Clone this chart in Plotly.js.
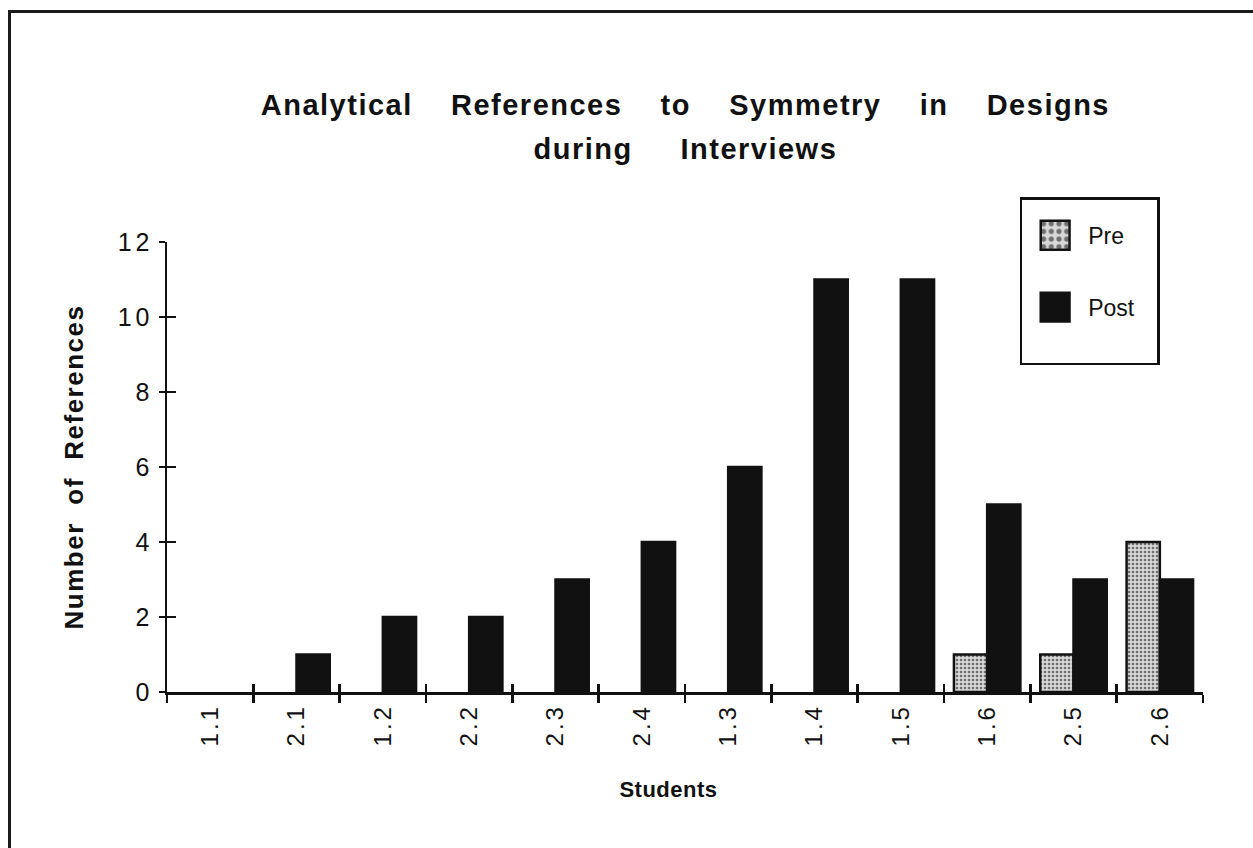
<!DOCTYPE html>
<html>
<head>
<meta charset="utf-8">
<script src="https://cdn.plot.ly/plotly-3.0.1.min.js"></script>
<style>
  html, body { margin: 0; padding: 0; background: #fff; overflow: hidden; }
  #frame { position: absolute; left: 8px; top: 10px; width: 1300px; height: 900px; border: 3px solid #1a1a1a; box-sizing: border-box; }
  #chart { position: absolute; left: 0; top: 0; width: 1253px; height: 848px; }
  .gtitle { letter-spacing: 1.5px; }
  .ytitle { letter-spacing: 1.5px; }
  .xtitle { letter-spacing: 0.5px; }
  .xtick text { letter-spacing: 3px; }
  .ytick text { letter-spacing: 4px; }
  .legend .legendpoints path { vector-effect: non-scaling-stroke; }
</style>
</head>
<body>
<div id="frame"></div>
<div id="chart"></div>
<script>
const students = ["1.1", "2.1", "1.2", "2.2", "2.3", "2.4", "1.3", "1.4", "1.5", "1.6", "2.5", "2.6"];
const preValues = [0, 0, 0, 0, 0, 0, 0, 0, 0, 1, 1, 4];
const postValues = [0, 1, 2, 2, 3, 4, 6, 11, 11, 5, 3, 3];
const yTicks = [0, 2, 4, 6, 8, 10, 12];

const FONT = "Liberation Sans, Arial, Helvetica, sans-serif";
const gap = "\u00a0\u00a0\u00a0\u00a0";
const hideZero = v => (v === 0 ? null : v);

const traces = [
  {
    type: "bar", name: "Pre", x: students, y: preValues.map(hideZero), legendgroup: "a",
    marker: {
      color: "#d4d4d4",
      pattern: { shape: ".", fgcolor: "#6e6e6e", bgcolor: "#d8d8d8", size: 4, solidity: 0.35 },
      line: { color: "#111", width: 2.5 }
    },
    hoverinfo: "x+y"
  },
  {
    type: "bar", name: "Post", x: students, y: postValues.map(hideZero), legendgroup: "b",
    marker: { color: "#111", line: { color: "#111", width: 2.5 } },
    hoverinfo: "x+y"
  },
  {
    // carries the inner half of the crossing tick marks and a blank spacer row in the legend
    type: "scatter", mode: "markers", name: "\u00a0".repeat(10), x: [null], y: [null],
    xaxis: "x2", yaxis: "y2", legendgroup: "b",
    marker: { opacity: 0, size: 1, color: "rgba(0,0,0,0)" }, hoverinfo: "skip"
  }
];

const n = students.length;
const layout = {
  width: 1253, height: 848,
  paper_bgcolor: "rgba(0,0,0,0)", plot_bgcolor: "rgba(0,0,0,0)",
  margin: { l: 167, r: 50, t: 242, b: 156 },
  font: { family: FONT, color: "#111" },
  barmode: "group", bargap: 0.23, bargroupgap: 0,
  title: {
    text: "Analytical" + gap + "References" + gap + "to" + gap + "Symmetry" + gap + "in" + gap + "Designs<br>during" + gap + "\u00a0Interviews",
    font: { family: FONT, size: 29, weight: "bold", color: "#111" },
    x: 0.547, xanchor: "center", y: 0.864, yanchor: "top"
  },
  xaxis: {
    type: "category", range: [-0.5, n - 0.5],
    showline: true, linecolor: "#111", linewidth: 2.5,
    ticks: "outside", tickson: "boundaries", ticklen: 8, tickwidth: 2.5, tickcolor: "#111",
    tickangle: -90, tickfont: { family: FONT, size: 24, color: "#111" },
    showgrid: false, zeroline: false,
    title: { text: "Students" + "\u00a0".repeat(5) + "\u200b", font: { family: FONT, size: 22, weight: "bold", color: "#111" }, standoff: 36 }
  },
  xaxis2: {
    overlaying: "x", anchor: "y", type: "linear", range: [-0.5, n - 0.5],
    tick0: -0.5, dtick: 1, ticks: "inside", ticklen: 8, tickwidth: 2.5, tickcolor: "#111",
    showticklabels: false, showgrid: false, zeroline: false, showline: false
  },
  yaxis: {
    range: [0, 12], tickvals: yTicks,
    showline: true, linecolor: "#111", linewidth: 2.5,
    ticks: "outside", ticklen: 6, tickwidth: 2.5, tickcolor: "#111",
    tickfont: { family: FONT, size: 25, color: "#111" },
    showgrid: false, zeroline: false,
    title: { text: "Number\u00a0\u00a0of\u00a0\u00a0References", font: { family: FONT, size: 26, weight: "bold", color: "#111" }, standoff: 27 }
  },
  yaxis2: {
    overlaying: "y", anchor: "x", range: [0, 12], tickvals: yTicks,
    ticks: "inside", ticklen: 9, tickwidth: 2.5, tickcolor: "#111",
    showticklabels: false, showgrid: false, zeroline: false, showline: false
  },
  legend: {
    x: 0.823, xanchor: "left", y: 1.1, yanchor: "top",
    bordercolor: "#111", borderwidth: 2.5, bgcolor: "#fff",
    font: { family: FONT, size: 23, color: "#111" },
    title: { text: "\u00a0", font: { family: FONT, size: 11 } },
    tracegroupgap: 39, itemwidth: 56,
    traceorder: "grouped"
  },
  showlegend: true
};

Plotly.newPlot("chart", traces, layout, { displayModeBar: false, staticPlot: true }).then(() => {
  // widen the gap between the two title lines to match the original's leading
  const lines = document.querySelectorAll(".gtitle tspan.line");
  if (lines.length > 1) lines[1].setAttribute("dy", "1.52em");
  // enlarge the bar legend swatches (not the blank spacer row) to the original's size
  const items = document.querySelectorAll(".legend .traces");
  items.forEach(item => {
    const label = item.querySelector("text.legendtext");
    const txt = label ? label.textContent.replace(/\u00a0/g, "").trim() : "";
    if (!txt) return;
    item.querySelectorAll(".legendpoints path").forEach(p => {
      const t = p.getAttribute("transform") || "";
      p.setAttribute("transform", t + " scale(2.4)");
    });
  });
});
</script>
</body>
</html>
